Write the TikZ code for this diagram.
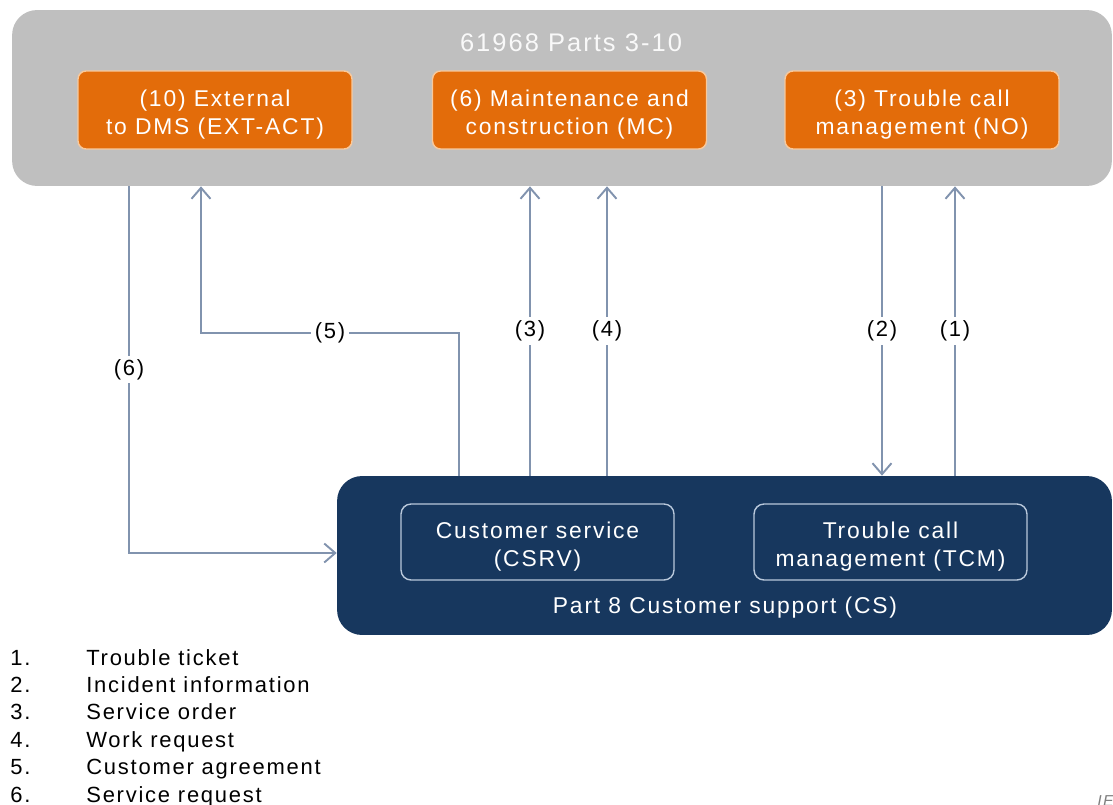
\documentclass[tikz,border=0pt]{standalone}
\usepackage{fontspec}
\setmainfont[LetterSpace=8]{Liberation Sans}
\usetikzlibrary{arrows.meta,positioning}
\definecolor{partgray}{HTML}{BFBFBF}
\definecolor{actorange}{HTML}{E36C0A}
\definecolor{actedge}{HTML}{F8C99C}
\definecolor{csblue}{HTML}{17375E}
\definecolor{flowblue}{HTML}{8193AE}
\definecolor{subedge}{HTML}{B9C8DB}

\begin{document}
\begin{tikzpicture}[x=0.02cm,y=-0.02cm,
    every node/.style={font=\fontsize{12.5}{15}\selectfont},
    flow/.style={draw=flowblue,line width=1.1pt,-{Straight Barb[length=2.2mm,width=3.8mm]}},
    lbl/.style={fill=white,inner sep=2pt}]
  \tikzstyle{partsbox}=[rounded corners=0.5cm,fill=partgray,minimum width=22cm,minimum height=3.52cm]
  \tikzstyle{actbox}=[rounded corners=0.16cm,fill=actorange,draw=actedge,line width=0.8pt,text=white,align=center,
    font=\fontsize{13}{16}\selectfont,text height=30.5pt,minimum width=5.48cm,minimum height=1.56cm]
  \tikzstyle{csbox}=[rounded corners=0.5cm,fill=csblue,minimum width=15.5cm,minimum height=3.18cm]
  \tikzstyle{subbox}=[rounded corners=0.2cm,draw=subedge,line width=0.8pt,text=white,align=center,
    font=\fontsize{13}{16}\selectfont,text height=30.5pt,minimum width=5.46cm,minimum height=1.52cm]
  \path[use as bounding box,clip] (0,0) rectangle (1113,805);

  % Parts 3-10
  \node[partsbox] (parts) at (562,98) {};
  \node[text=white!95!gray,font=\fontsize{14.5}{17}\selectfont] (ptitle) at (571,43) {61968 Parts 3-10};
  \node[actbox] (ext) at (215,110) {(10) External\\to DMS (EXT-ACT)};
  \node[actbox] (mc) at (569.5,110) {(6) Maintenance and\\construction (MC)};
  \node[actbox] (no) at (922,110) {(3) Trouble call\\management (NO)};

  % Part 8
  \node[csbox] (cs) at (724.5,555.5) {};
  \node[subbox] (csrv) at (537.5,542) {Customer service\\(CSRV)};
  \node[subbox] (tcm) at (890.5,542) {Trouble call\\management (TCM)};
  \node[text=white,font=\fontsize{13}{16}\selectfont] (cstitle) at (725,608) {Part 8 Customer support (CS)};

  % Flow positions
  \coordinate (x6) at (129,0);
  \coordinate (x5a) at (201,0);
  \coordinate (x5b) at (459,0);
  \coordinate (x3) at (530,0);
  \coordinate (x4) at (607,0);
  \coordinate (x2) at (882,0);
  \coordinate (x1) at (955,0);
  \coordinate (bend6) at (129,553);
  \coordinate (bend5a) at (459,333);
  \coordinate (bend5b) at (201,333);

  % Flows
  \draw[flow] (parts.south -| x6) -- node[lbl] {(6)} (bend6) -- (cs.west |- bend6);
  \draw[flow] (cs.north -| x5b) -- (bend5a) -- node[lbl] {(5)} (bend5b) -- (parts.south -| x5a);
  \draw[flow] (cs.north -| x3) -- node[lbl] {(3)} (parts.south -| x3);
  \draw[flow] (cs.north -| x4) -- node[lbl] {(4)} (parts.south -| x4);
  \draw[flow] (parts.south -| x2) -- node[lbl] {(2)} (cs.north -| x2);
  \draw[flow] (cs.north -| x1) -- node[lbl] {(1)} (parts.south -| x1);

  % Legend
  \foreach \n/\txt [count=\i from 0] in {1/Trouble ticket,2/Incident information,3/Service order,
      4/Work request,5/Customer agreement,6/Service request}{
    \node[anchor=base west,inner sep=0pt] (num\n) at (10,665+27.4*\i) {\n.};
    \node[anchor=base west,inner sep=0pt] (leg\n) at (86,665+27.4*\i) {\txt};
  }
  \node[anchor=west,inner sep=0pt,text=gray,font=\itshape\small] (iec) at (1097,801) {IEC};
\end{tikzpicture}
\end{document}
